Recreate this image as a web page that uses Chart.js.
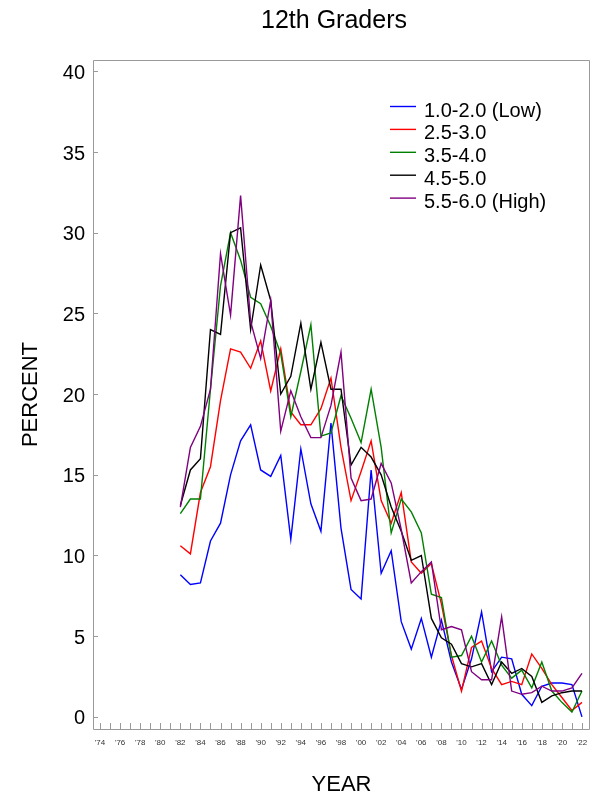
<!DOCTYPE html>
<html>
<head>
<meta charset="utf-8">
<script src="https://cdn.jsdelivr.net/npm/chart.js@4"></script>
<style>
  body { margin: 0; background: #fff; }
</style>
</head>
<body>
<canvas id="gradeChart" width="592" height="798"></canvas>
<script>
// years with survey data
const years = [1982, 1983, 1984, 1985, 1986, 1987, 1988, 1989, 1990, 1991,
    1992, 1993, 1994, 1995, 1996, 1997, 1998, 1999, 2000, 2001,
    2002, 2003, 2004, 2005, 2006, 2007, 2008, 2009, 2010, 2011,
    2012, 2013, 2014, 2015, 2016, 2017, 2018, 2019, 2020, 2021, 2022];

// percent by group
const low = [8.8, 8.2, 8.3, 10.9, 12.0, 15.0, 17.1, 18.1, 15.3, 14.9,
    16.2, 11.0, 16.6, 13.2, 11.5, 18.2, 11.7, 7.9, 7.3, 15.3,
    8.9, 10.3, 5.9, 4.2, 6.1, 3.7, 6.0, 3.4, 1.7, 3.6,
    6.5, 2.8, 3.7, 3.6, 1.4, 0.7, 1.9, 2.1, 2.1, 2.0, 0.0];
const grp25 = [10.6, 10.1, 13.9, 15.5, 19.6, 22.8, 22.6, 21.6, 23.3, 20.2,
    22.8, 18.9, 18.1, 18.1, 19.1, 21.0, 16.7, 13.4, 15.2, 17.1,
    13.4, 12.0, 13.9, 9.6, 8.9, 9.5, 7.0, 3.8, 1.6, 4.3,
    4.7, 3.0, 2.0, 2.2, 2.0, 3.9, 3.0, 2.0, 1.2, 0.4, 0.9];
const grp35 = [12.6, 13.5, 13.5, 20.3, 26.7, 30.0, 28.3, 26.0, 25.6, 24.2,
    22.5, 18.6, 21.4, 24.3, 17.4, 17.6, 19.9, 18.5, 17.0, 20.3,
    16.7, 11.4, 13.5, 12.7, 11.4, 7.6, 7.4, 3.7, 3.8, 5.0,
    3.4, 4.7, 3.2, 2.4, 2.9, 1.8, 3.4, 1.6, 0.9, 0.3, 1.6];
const grp45 = [13.1, 15.3, 16.0, 24.0, 23.7, 30.0, 30.3, 24.0, 28.0, 25.8,
    20.0, 21.1, 24.4, 20.3, 23.2, 20.3, 20.3, 15.6, 16.7, 16.1,
    15.0, 13.0, 11.5, 9.7, 10.0, 6.1, 4.9, 4.5, 3.3, 3.1,
    3.3, 2.0, 3.4, 2.7, 3.0, 2.5, 0.9, 1.3, 1.5, 1.6, 1.6];
const high = [13.0, 16.7, 18.0, 20.3, 28.7, 24.9, 32.3, 24.5, 22.2, 25.8,
    17.7, 20.2, 18.6, 17.3, 17.3, 19.3, 22.6, 14.8, 13.4, 13.5,
    15.7, 14.5, 11.6, 8.3, 9.0, 9.6, 5.4, 5.6, 5.4, 2.8,
    2.3, 2.3, 6.2, 1.6, 1.4, 1.5, 1.9, 1.6, 1.6, 1.8, 2.7];

const seriesNames = ['1.0-2.0 (Low)', '2.5-3.0', '3.5-4.0', '4.5-5.0', '5.5-6.0 (High)'];
const seriesColors = ['#0000ff', '#ff0000', '#008000', '#000000', '#800080'];

// axis ticks
const yTicks = [0, 5, 10, 15, 20, 25, 30, 35, 40];
const xLabelYears = [1974, 1976, 1978, 1980, 1982, 1984, 1986, 1988, 1990, 1992,
    1994, 1996, 1998, 2000, 2002, 2004, 2006, 2008, 2010, 2012,
    2014, 2016, 2018, 2020, 2022];
const xLabels = ["'74", "'76", "'78", "'80", "'82", "'84", "'86", "'88", "'90", "'92",
    "'94", "'96", "'98", "'00", "'02", "'04", "'06", "'08", "'10", "'12",
    "'14", "'16", "'18", "'20", "'22"];

const FONT = "'Liberation Sans', Arial, sans-serif";
Chart.defaults.font.family = FONT;

const allSeries = [low, grp25, grp35, grp45, high];
const datasets = allSeries.map((vals, i) => ({
    label: seriesNames[i],
    data: vals.map((v, j) => ({ x: years[j], y: v })),
    borderColor: seriesColors[i],
    backgroundColor: seriesColors[i],
    borderWidth: 1.4,
    pointRadius: 0,
    tension: 0,
    fill: false,
    order: allSeries.length - i
}));

// minor ticks every year along the bottom
const minorYears = [];
for (let yr = xLabelYears[0]; yr <= xLabelYears[xLabelYears.length - 1]; yr++) minorYears.push(yr);

// frame round the plot, ticks pointing inward
const framePlugin = {
    id: 'frame',
    beforeDatasetsDraw(chart) {
        const { ctx, chartArea: a, scales: { x, y } } = chart;
        ctx.save();
        ctx.strokeStyle = '#9a9a9a';
        ctx.lineWidth = 1;
        ctx.beginPath();
        ctx.rect(a.left + 0.5, a.top + 0.5, a.right - a.left - 1, a.bottom - a.top);
        x.ticks.forEach(t => {
            const px = Math.round(x.getPixelForValue(t.value)) + 0.5;
            ctx.moveTo(px, a.bottom);
            ctx.lineTo(px, a.bottom - 6);
        });
        y.ticks.forEach(t => {
            const py = Math.round(y.getPixelForValue(t.value)) + 0.5;
            ctx.moveTo(a.left, py);
            ctx.lineTo(a.left + 5, py);
        });
        ctx.stroke();
        ctx.restore();
    }
};

// title and legend
const textPlugin = {
    id: 'texts',
    afterDraw(chart) {
        const { ctx } = chart;
        ctx.save();
        ctx.fillStyle = '#000';
        ctx.font = '25px ' + FONT;
        ctx.textAlign = 'center';
        ctx.textBaseline = 'alphabetic';
        ctx.fillText('12th Graders', 334, 28);

        ctx.font = '20px ' + FONT;
        ctx.textAlign = 'left';
        chart.data.datasets.forEach((ds, i) => {
            const base = 116.5 + i * 22.9;
            ctx.strokeStyle = ds.borderColor;
            ctx.lineWidth = 1.4;
            ctx.beginPath();
            ctx.moveTo(390, base - 10);
            ctx.lineTo(416, base - 10);
            ctx.stroke();
            ctx.fillText(ds.label, 424, base);
        });
        ctx.restore();
    }
};

const chart = new Chart(document.getElementById('gradeChart').getContext('2d'), {
    type: 'line',
    data: { datasets: datasets },
    options: {
        responsive: false,
        animation: false,
        layout: { padding: { top: 60, right: 2, left: 0, bottom: 0 } },
        plugins: {
            legend: { display: false },
            title: { display: false },
            tooltip: { enabled: false }
        },
        scales: {
            x: {
                type: 'linear',
                min: 1973.3,
                max: 2022.8,
                afterBuildTicks: s => { s.ticks = minorYears.map(v => ({ value: v })); },
                afterFit: s => {
                    s.height = 69;
                    s.paddingLeft = 0;
                    s.paddingRight = 0;
                },
                grid: { display: false, drawTicks: false },
                border: { display: false },
                ticks: {
                    autoSkip: false,
                    maxRotation: 0,
                    padding: 9,
                    color: '#333',
                    font: { size: 8 },
                    callback: v => {
                        const k = xLabelYears.indexOf(v);
                        return k >= 0 ? xLabels[k] : '';
                    }
                },
                title: {
                    display: true,
                    text: 'YEAR',
                    color: '#000',
                    font: { size: 22 },
                    padding: { top: 0, bottom: 0 }
                }
            },
            y: {
                min: -0.75,
                max: 40.7,
                afterBuildTicks: s => { s.ticks = yTicks.map(v => ({ value: v })); },
                afterFit: s => {
                    s.width = 93;
                    s.paddingTop = 0;
                    s.paddingBottom = 0;
                },
                grid: { display: false, drawTicks: false },
                border: { display: false },
                ticks: {
                    padding: 8,
                    labelOffset: 2,
                    color: '#000',
                    font: { size: 20 }
                },
                title: {
                    display: true,
                    text: 'PERCENT',
                    color: '#000',
                    font: { size: 22 },
                    padding: { top: 18, bottom: 0 }
                }
            }
        }
    },
    plugins: [framePlugin, textPlugin]
});
</script>
</body>
</html>
